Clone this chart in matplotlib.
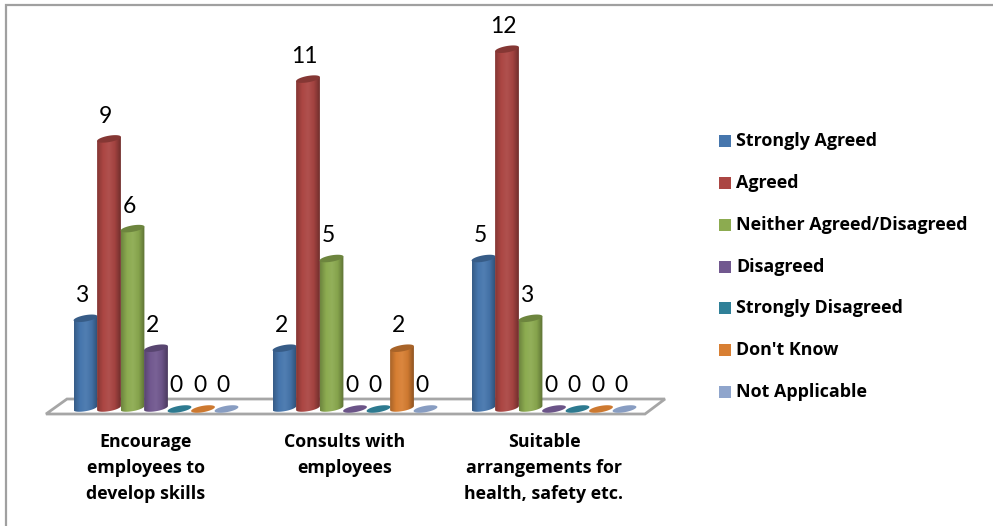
import numpy as np
import matplotlib
matplotlib.use("Agg")
import matplotlib.pyplot as plt
from matplotlib.colors import LinearSegmentedColormap, to_rgb
from matplotlib.lines import Line2D
from matplotlib.patches import Polygon, Rectangle, PathPatch
from matplotlib.path import Path

categories = ["Encourage\nemployees to\ndevelop skills", "Consults with\nemployees",
              "Suitable\narrangements for\nhealth, safety etc."]
series = ["Strongly Agreed", "Agreed", "Neither Agreed/Disagreed", "Disagreed",
          "Strongly Disagreed", "Don't Know", "Not Applicable"]
colors = ["#4676ad", "#ab4643", "#8cab50", "#71588f", "#2f8098", "#d87f33", "#8fa5cc"]
strongly_agreed = [3, 2, 5]
agreed = [9, 11, 12]
neither = [6, 5, 3]
disagreed = [2, 0, 0]
strongly_disagreed = [0, 0, 0]
dont_know = [0, 2, 0]
not_applicable = [0, 0, 0]
table = [strongly_agreed, agreed, neither, disagreed, strongly_disagreed, dont_know, not_applicable]

W, H = 993, 526
plt.rcParams["font.family"] = ["Open Sans", "DejaVu Sans"]
fig = plt.figure(figsize=(W / 100, H / 100), dpi=100)
ax = fig.add_axes([0, 0, 1, 1])
ax.axis("off")
# scales: 1 category = 199 px, 1 value = 29.9 px
PXX, PXY = 199.0, 29.9
X0, Y0 = 85.5, 408.0   # pixel of first bar centre, value 0
ax.set_xlim(-X0 / PXX, (W - X0) / PXX)
ax.set_ylim(-(H - Y0) / PXY, Y0 / PXY)

px, py = 1 / PXX, 1 / PXY
bw = 23.5 * px          # bar step and width
a = 11.9 * px           # ellipse half-axes
b = 3.2 * py
tilt = (2.0 * py) / a   # slope of ellipses

# outer frame: only top and left edges are visible in the picture
fig.add_artist(Line2D([6 / W, 6 / W, 1], [0, 1 - 4.5 / H, 1 - 4.5 / H], color="#a0a0a0", lw=1.6,
                      transform=fig.transFigure, solid_joinstyle="miter"))

# floor
ax.add_patch(Polygon([(-39.5 * px, -6 * py), (-18.5 * px, 9 * py), (579.5 * px, 9 * py), (559.5 * px, -6 * py)],
                     closed=True, fill=False, ec="#a6a6a6", lw=2.0, zorder=1))

t = np.linspace(0, 2 * np.pi, 80)
def ell(cx, cy):
    return np.c_[cx + a * np.cos(t), cy + b * np.sin(t) + tilt * a * np.cos(t)]

def shade(c, k):
    r = np.array(to_rgb(c))
    return tuple(r * k) if k <= 1 else tuple(r + (1 - r) * (k - 1))

for s, vals in enumerate(table):
    c = colors[s]
    cmap = LinearSegmentedColormap.from_list("c", [shade(c, .78), shade(c, 1.0), shade(c, 1.06), shade(c, .95), shade(c, .66)])
    grad = np.linspace(0, 1, 64)[None, :]
    for g, v in enumerate(vals):
        cx = g + s * bw
        z = 3 + s * 0.01
        if v > 0:
            # body: rectangle plus lower half ellipse, shaded across its width
            lo = t[(t >= np.pi)]
            bottom = np.c_[cx + a * np.cos(lo), b * np.sin(lo) + tilt * a * np.cos(lo)]
            pts = np.vstack([[(cx - a, v - tilt * a)], bottom, [(cx + a, v + tilt * a)], [(cx - a, v - tilt * a)]])
            clip = PathPatch(Path(pts), transform=ax.transData, fc="none", ec="none")
            ax.add_patch(clip)
            im = ax.imshow(grad, extent=[cx - a, cx + a, -b * 2, v + b * 2], aspect="auto", cmap=cmap,
                           vmin=0, vmax=1, zorder=z, interpolation="bilinear")
            im.set_clip_path(clip)
            ax.add_patch(Polygon(ell(cx, v), closed=True, fc=shade(c, .78), ec="none", zorder=z + .001))
        else:
            ax.add_patch(Polygon(ell(cx, v - 1 * py), closed=True, fc=shade(c, .95), ec="none", zorder=z))
        ax.text(cx - 3.5 * px, v + 22.5 * py, str(v), ha="center", va="center", fontsize=16.5,
                family=["Lato", "DejaVu Sans"], color="black", zorder=6)

ax.set_xlim(-X0 / PXX, (W - X0) / PXX)
ax.set_ylim(-(H - Y0) / PXY, Y0 / PXY)

# category labels
for g, lab in enumerate(categories):
    for i, line in enumerate(lab.split("\n")):
        ax.text(g + 60.5 * px, (408 - (442 + i * 26)) * py, line, ha="center", va="center",
                fontsize=12.8, fontweight="bold", color="black")

# legend
leg_y = [141, 183, 225, 267, 308, 350, 392]
for name, c, y in zip(series, colors, leg_y):
    ax.add_patch(Rectangle(((719 - X0) * px, (408 - y - 6) * py), 11.5 * px, 12 * py, fc=c, ec="none"))
    ax.text((736 - X0) * px, (408 - y) * py, name, ha="left", va="center",
            fontsize=12.9, fontweight="bold", color="black")

fig.savefig("out.png", dpi=100)
